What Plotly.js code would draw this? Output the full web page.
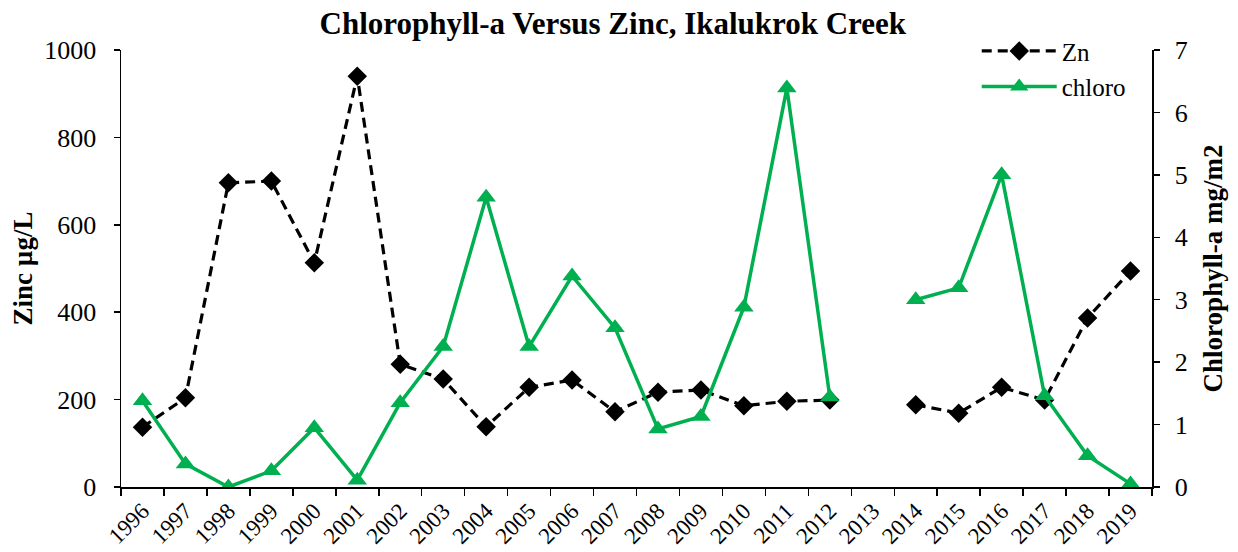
<!DOCTYPE html>
<html>
<head>
<meta charset="utf-8">
<script src="https://cdn.plot.ly/plotly-3.0.1.min.js"></script>
<style>html,body{margin:0;padding:0;background:#fff;}#chart{width:1238px;height:552px;}</style>
</head>
<body>
<div id="chart"></div>
<script>
var years = ["1996","1997","1998","1999","2000","2001","2002","2003","2004","2005","2006","2007","2008","2009","2010","2011","2012","2013","2014","2015","2016","2017","2018","2019"];
var zinc = [137, 204, 696, 700, 513, 940, 281, 247, 138, 228, 245, 172, 217, 222, 186, 196, 199, null, 188, 169, 228, 199, 387, 494];
var chloro = [1.38, 0.37, 0.0, 0.26, 0.95, 0.11, 1.35, 2.25, 4.64, 2.25, 3.38, 2.55, 0.93, 1.13, 2.88, 6.39, 1.44, null, 3.0, 3.19, 5.0, 1.46, 0.5, 0.05];

var serif = "Liberation Serif, Times New Roman, serif";
var traces = [
  {x: years, y: zinc, name: "Zn", type: "scatter", mode: "lines+markers", yaxis: "y",
   connectgaps: false,
   line: {color: "#000000", width: 3.2, dash: "10px,6px"},
   marker: {symbol: "diamond", size: 15, color: "#000000"}},
  {x: years, y: chloro, name: "chloro", type: "scatter", mode: "lines+markers", yaxis: "y2",
   connectgaps: false,
   line: {color: "#00B050", width: 3.5},
   marker: {symbol: "triangle-up", size: 17, color: "#00B050"}}
];
var layout = {
  width: 1238, height: 552,
  margin: {l: 121, r: 86, t: 50, b: 65},
  paper_bgcolor: "#ffffff", plot_bgcolor: "#ffffff",
  font: {family: serif, color: "#000000", size: 24},
  title: {text: "<b>Chlorophyll-a Versus Zinc, Ikalukrok Creek</b>", x: 0.495, xanchor: "center", y: 0.978, yanchor: "top",
          font: {family: serif, size: 31, color: "#000"}},
  showlegend: true,
  legend: {x: 0.83, y: 1.05, xanchor: "left", yanchor: "top", bgcolor: "rgba(0,0,0,0)",
           font: {family: serif, size: 25}, itemwidth: 75, tracegroupgap: 0},
  xaxis: {type: "category", tickson: "boundaries", ticks: "outside", ticklen: 7, tickwidth: 1.5, tickcolor: "#000",
          showline: true, linecolor: "#000", linewidth: 1.5, showgrid: false, zeroline: false,
          tickangle: -45, tickfont: {family: serif, size: 23}, range: [-0.5, 23.5]},
  yaxis: {range: [0, 1000], dtick: 200, ticks: "outside", ticklen: 6, tickwidth: 1.5, tickcolor: "#000",
          showline: true, linecolor: "#000", linewidth: 1.5, showgrid: false, zeroline: false,
          tickfont: {family: serif, size: 26}, ticklabelstandoff: 12,
          title: {text: "<b>Zinc µg/L</b>", font: {family: serif, size: 27}, standoff: 4}},
  yaxis2: {range: [0, 7], dtick: 1, overlaying: "y", side: "right", ticks: "outside", ticklen: 6, tickwidth: 1.5, tickcolor: "#000",
           showline: true, linecolor: "#000", linewidth: 1.5, showgrid: false, zeroline: false,
           tickfont: {family: serif, size: 26}, ticklabelstandoff: 10,
           title: {text: "<b>Chlorophyll-a mg/m2</b>", font: {family: serif, size: 27}, standoff: 16}}
};
Plotly.newPlot("chart", traces, layout, {displayModeBar: false, staticPlot: true});
</script>
</body>
</html>
